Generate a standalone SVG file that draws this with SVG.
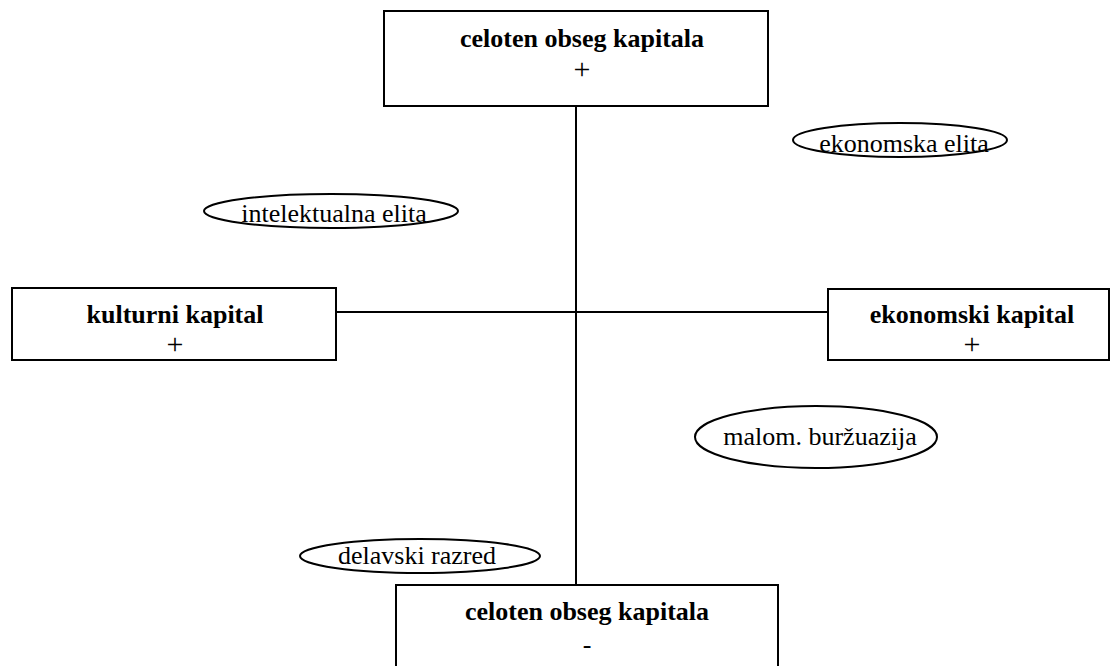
<svg xmlns="http://www.w3.org/2000/svg" width="1111" height="666" viewBox="0 0 1111 666">
<style>
.box{fill:#fff;stroke:#000;stroke-width:2}
.ell{fill:#fff;stroke:#000;stroke-width:2}
.ln{stroke:#000;stroke-width:2;fill:none}
.t{font-family:"Liberation Serif","Times New Roman",serif;font-size:26px;fill:#000;text-anchor:middle}
.b{font-weight:bold}
.p{font-size:30px}
</style>
<rect width="1111" height="666" fill="#fff"/>
<g id="connectors">
<line class="ln" x1="336" y1="312" x2="828" y2="312"/>
<line class="ln" x1="576" y1="106" x2="576" y2="597"/>
</g>
<g id="top">
<rect class="box" x="384" y="11" width="384" height="95"/>
<text class="t b" x="582" y="47">celoten obseg kapitala</text>
<text class="t p" x="582" y="79">+</text>
</g>
<g id="left">
<rect class="box" x="12" y="288" width="324" height="72"/>
<text class="t b" x="175" y="323">kulturni kapital</text>
<text class="t p" x="175" y="354">+</text>
</g>
<g id="right">
<rect class="box" x="828" y="289" width="281" height="71"/>
<text class="t b" x="972" y="323">ekonomski kapital</text>
<text class="t p" x="972" y="354">+</text>
</g>
<g id="bottom">
<rect class="box" x="396" y="585" width="382" height="90"/>
<text class="t b" x="587" y="620">celoten obseg kapitala</text>
<text class="t" x="587" y="653">-</text>
</g>
<g id="intelektualna">
<ellipse class="ell" cx="331" cy="211" rx="127" ry="17"/>
<text class="t" x="334" y="222">intelektualna elita</text>
</g>
<g id="ekonomska">
<ellipse class="ell" cx="900" cy="140" rx="107" ry="17"/>
<text class="t" x="904" y="152">ekonomska elita</text>
</g>
<g id="malom">
<ellipse class="ell" cx="816" cy="437" rx="121" ry="31"/>
<text class="t" x="820" y="445">malom. buržuazija</text>
</g>
<g id="delavski">
<ellipse class="ell" cx="420" cy="556" rx="120" ry="17"/>
<text class="t" x="417" y="564">delavski razred</text>
</g>
</svg>
